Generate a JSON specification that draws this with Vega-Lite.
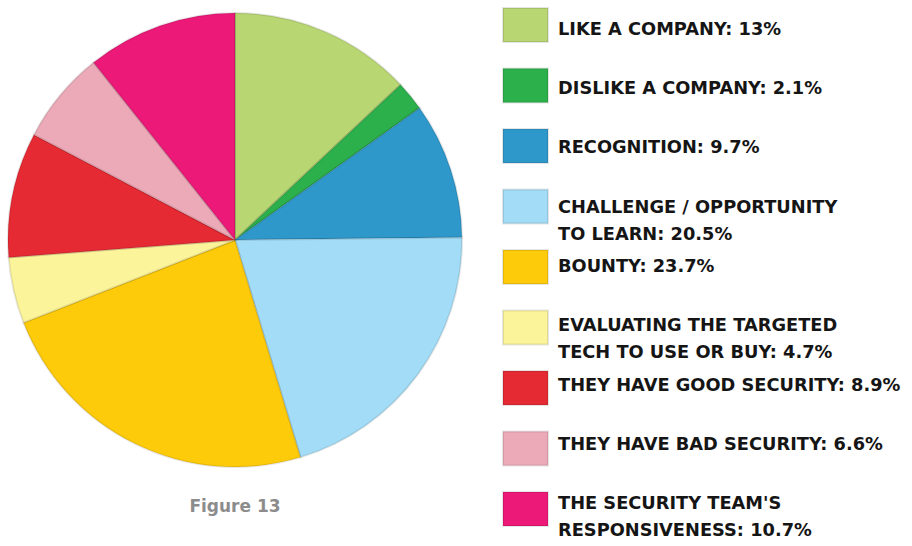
{
  "$schema": "https://vega.github.io/schema/vega-lite/v6.json",
  "padding": 0,
  "autosize": {"type": "pad"},
  "spacing": 32,
  "config": {"view": {"stroke": null}},
  "data": {"values": [
    {"order": 1, "cat": "Like a company", "value": 13.0, "label": "LIKE A COMPANY: 13%"},
    {"order": 2, "cat": "Dislike a company", "value": 2.1, "label": "DISLIKE A COMPANY: 2.1%"},
    {"order": 3, "cat": "Recognition", "value": 9.7, "label": "RECOGNITION: 9.7%"},
    {"order": 4, "cat": "Challenge / opportunity to learn", "value": 20.5, "label": "CHALLENGE / OPPORTUNITY\nTO LEARN: 20.5%"},
    {"order": 5, "cat": "Bounty", "value": 23.7, "label": "BOUNTY: 23.7%"},
    {"order": 6, "cat": "Evaluating the targeted tech to use or buy", "value": 4.7, "label": "EVALUATING THE TARGETED\nTECH TO USE OR BUY: 4.7%"},
    {"order": 7, "cat": "They have good security", "value": 8.9, "label": "THEY HAVE GOOD SECURITY: 8.9%"},
    {"order": 8, "cat": "They have bad security", "value": 6.6, "label": "THEY HAVE BAD SECURITY: 6.6%"},
    {"order": 9, "cat": "The security team's responsiveness", "value": 10.7, "label": "THE SECURITY TEAM'S\nRESPONSIVENESS: 10.7%"}
  ]},
  "hconcat": [
    {
      "width": 470,
      "height": 480,
      "title": {"text": "Figure 13", "orient": "bottom", "offset": 19, "fontSize": 17, "font": "DejaVu Sans", "fontWeight": "bold", "color": "#8c8c8c", "anchor": "middle"},
      "mark": {"type": "arc", "radius": 227, "stroke": "#000000", "strokeOpacity": 0.1, "strokeWidth": 2},
      "encoding": {
        "theta": {"field": "value", "type": "quantitative", "stack": true},
        "order": {"field": "order", "type": "quantitative"},
        "color": {"field": "cat", "type": "nominal", "legend": null,
          "scale": {
            "domain": ["Like a company", "Dislike a company", "Recognition", "Challenge / opportunity to learn", "Bounty", "Evaluating the targeted tech to use or buy", "They have good security", "They have bad security", "The security team's responsiveness"],
            "range": ["#b8d672", "#2cb04b", "#2f98cb", "#a2dcf6", "#fecb0a", "#fcf49a", "#e52a33", "#eca9b7", "#ec1978"]
          }
        }
      }
    },
    {
      "spacing": 8,
      "hconcat": [
        {
          "width": 45,
          "height": 534,
          "mark": {"type": "rect", "stroke": "#000000", "strokeOpacity": 0.1, "strokeWidth": 2},
          "encoding": {
            "y": {"field": "cat", "type": "nominal", "sort": {"field": "order"}, "axis": null,
              "scale": {"paddingInner": 0.438, "paddingOuter": 0.132}},
            "color": {"field": "cat", "type": "nominal", "legend": null,
              "scale": {
                "domain": ["Like a company", "Dislike a company", "Recognition", "Challenge / opportunity to learn", "Bounty", "Evaluating the targeted tech to use or buy", "They have good security", "They have bad security", "The security team's responsiveness"],
                "range": ["#b8d672", "#2cb04b", "#2f98cb", "#a2dcf6", "#fecb0a", "#fcf49a", "#e52a33", "#eca9b7", "#ec1978"]
              }
            }
          }
        },
        {
          "width": 2,
          "height": 534,
          "mark": {"type": "text", "align": "left", "baseline": "alphabetic", "dy": 5, "lineBreak": "\n", "lineHeight": 27, "font": "DejaVu Sans", "fontWeight": "bold", "fontSize": 17.8, "color": "#151515"},
          "encoding": {
            "y": {"field": "cat", "type": "nominal", "sort": {"field": "order"}, "axis": null,
              "scale": {"paddingInner": 0.438, "paddingOuter": 0.132}},
            "text": {"field": "label", "type": "nominal"}
          }
        }
      ]
    }
  ]
}
